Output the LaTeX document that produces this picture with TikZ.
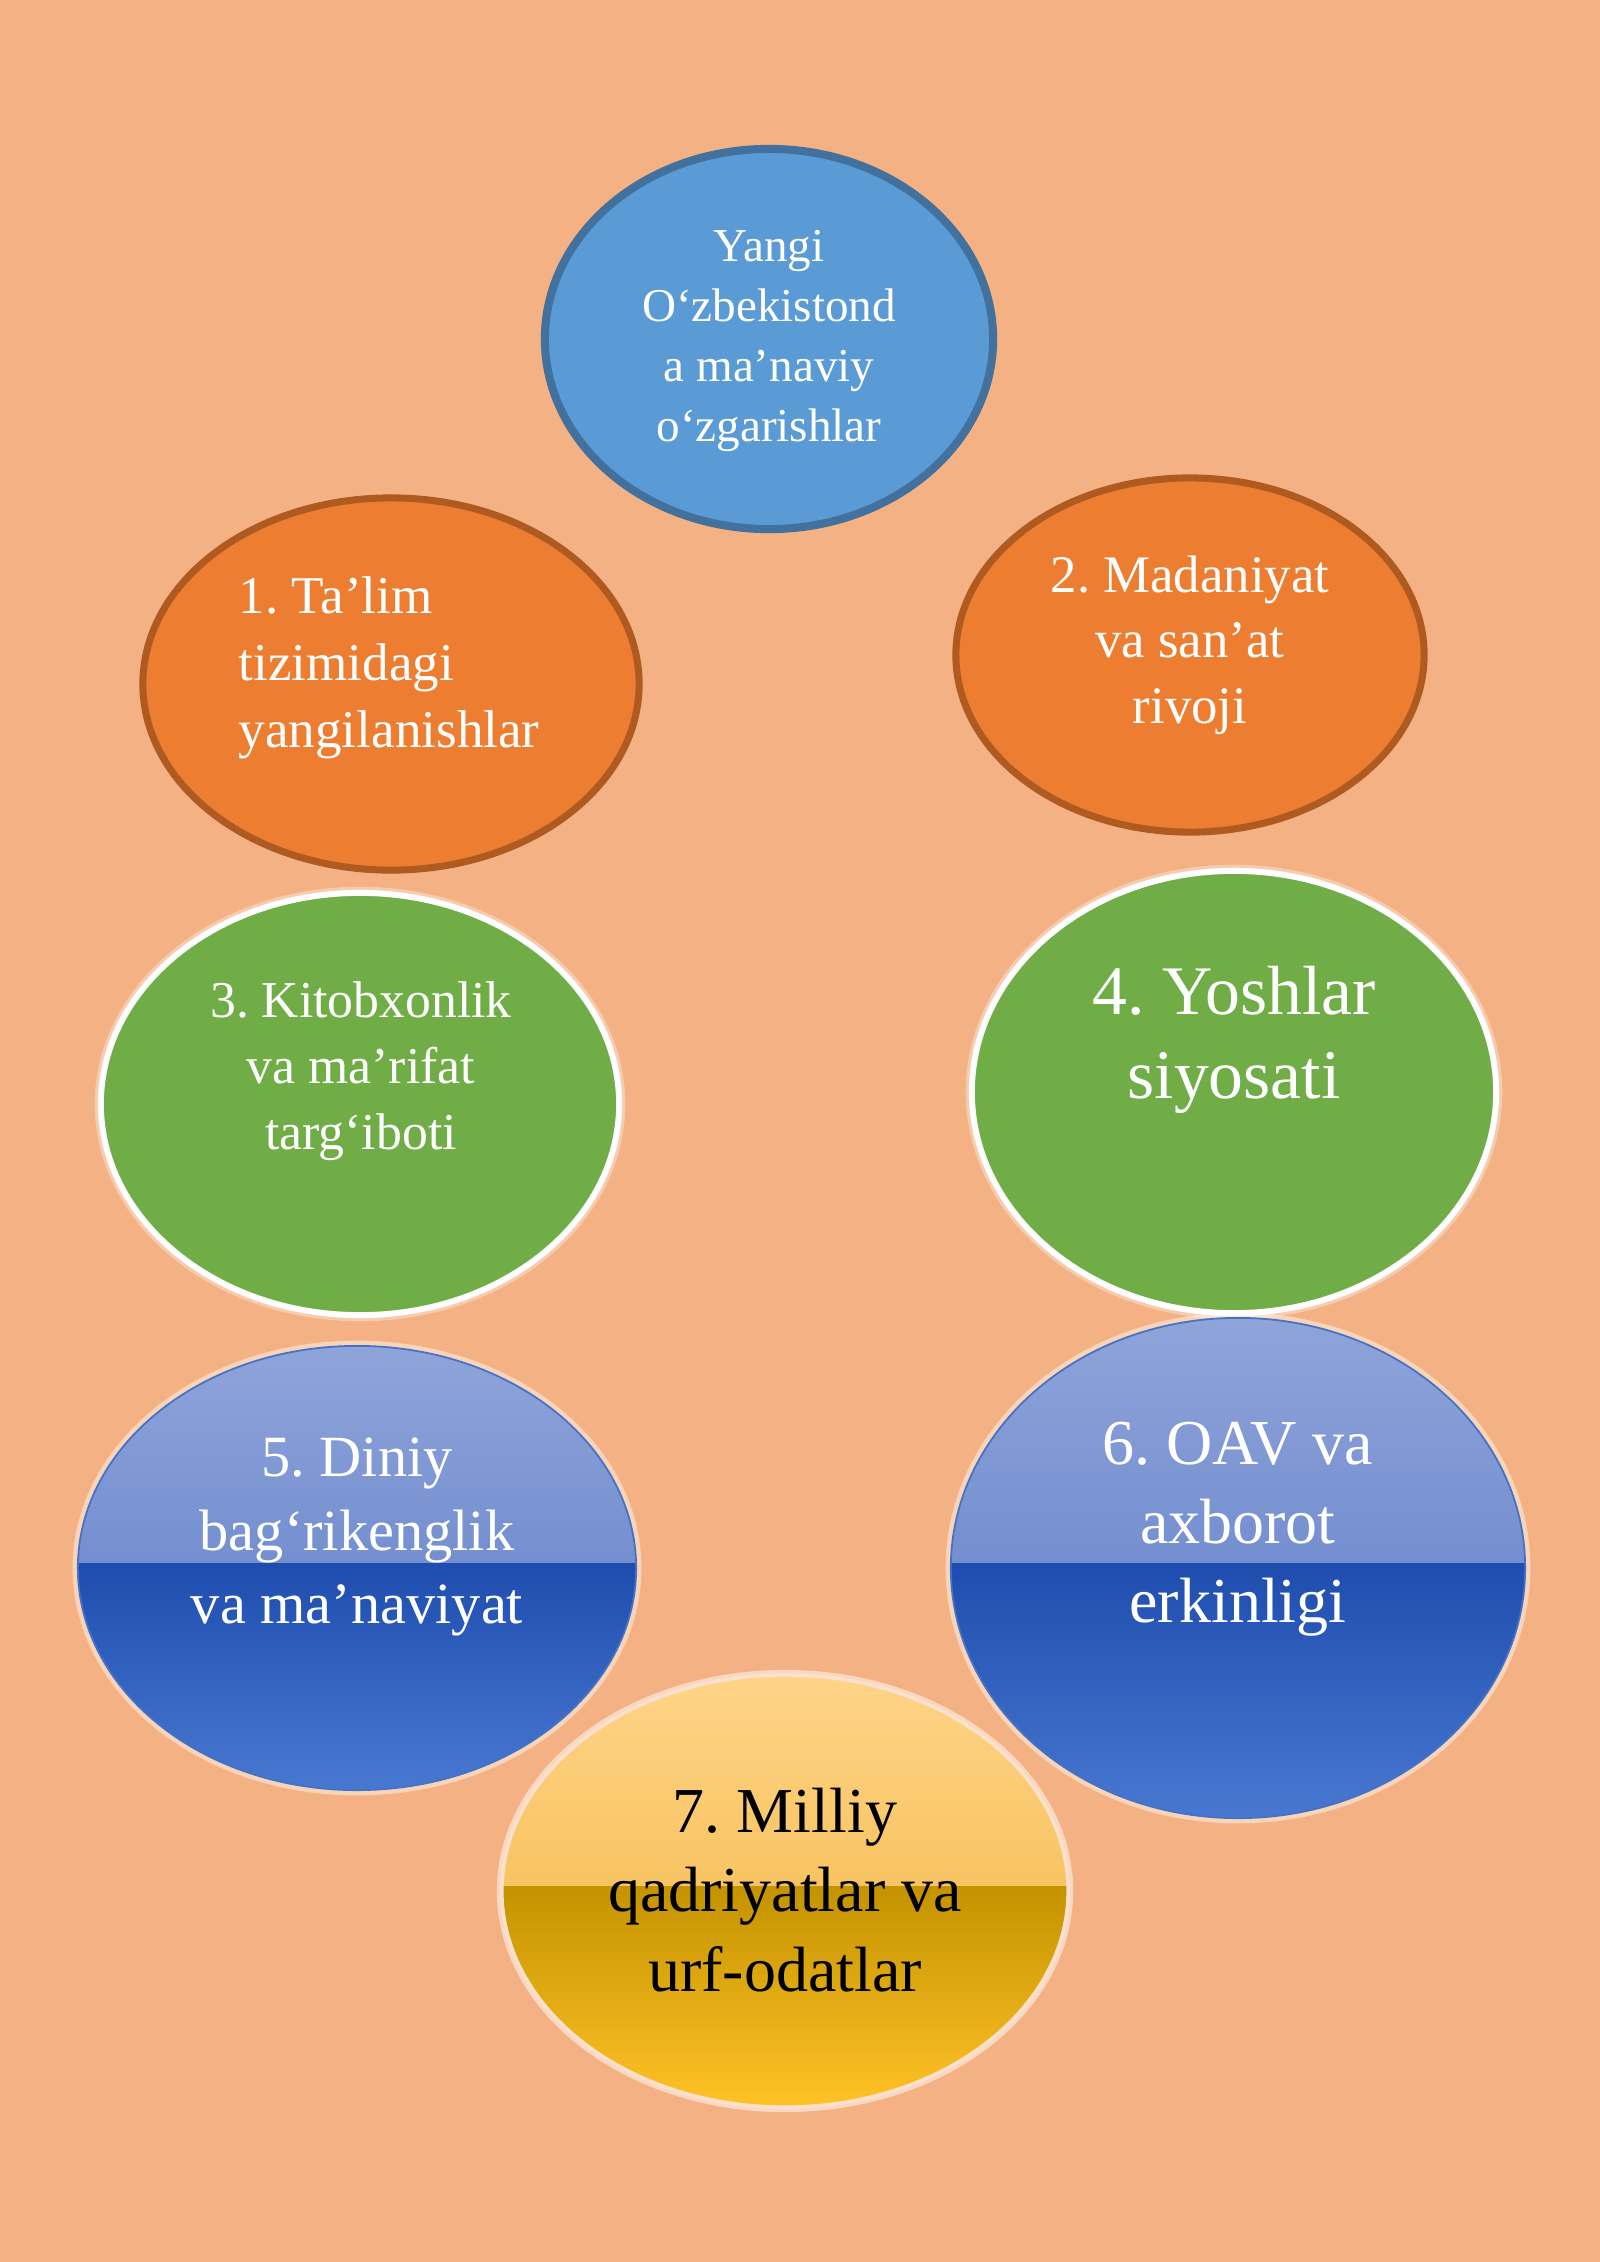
\documentclass[tikz,border=0pt]{standalone}
\usepackage{fontspec}
\setmainfont{Liberation Serif}
\usetikzlibrary{shapes.geometric}
\frenchspacing

\definecolor{pagebg}{HTML}{F4B183}
\definecolor{topblue}{HTML}{5B9BD5}
\definecolor{topedge}{HTML}{41719C}
\definecolor{orangefill}{HTML}{ED7D31}
\definecolor{orangeedge}{HTML}{AE5A21}
\definecolor{greenfill}{HTML}{70AD47}
\definecolor{blueedge}{HTML}{4472C4}
\definecolor{bluetopA}{HTML}{8FA4D9}
\definecolor{bluetopB}{HTML}{5878C6}
\definecolor{bluelowA}{HTML}{1E4DAF}
\definecolor{bluelowB}{HTML}{4878D0}
\definecolor{goldtopA}{HTML}{FED488}
\definecolor{goldtopB}{HTML}{F2B33A}
\definecolor{goldlowA}{HTML}{C49300}
\definecolor{goldlowB}{HTML}{FFC226}

\tikzset{
  bubble/.style={ellipse, inner sep=0pt},
  orangebub/.style={bubble, fill=orangefill, draw=orangeedge, line width=2pt},
  greenbub/.style={bubble, fill=greenfill, draw=white, line width=1.7pt,
    preaction={draw=white, opacity=0.35, line width=3.5pt}},
  glossy/.style n args={4}{path picture={
    \shade[top color=#1, bottom color=#2] (path picture bounding box.north west) rectangle ([yshift=0.05cm]path picture bounding box.east);
    \shade[top color=#3, bottom color=#4] ([yshift=0.05cm]path picture bounding box.west) rectangle (path picture bounding box.south east);
  }},
  bluebub/.style={bubble, draw=blueedge, line width=0.5pt,
    preaction={draw=white, opacity=0.45, line width=3pt},
    glossy={bluetopA}{bluetopB}{bluelowA}{bluelowB}},
  lbl/.style={text=white, align=center, inner sep=0pt},
}

\begin{document}
\begin{tikzpicture}[x=0.01cm, y=-0.01cm]
  \fill[pagebg] (0,0) rectangle (1600,2262);
  \useasboundingbox (0,0) rectangle (1600,2262);

  % centre
  \node[bubble, fill=topblue, draw=topedge, line width=2.3pt,
    minimum width=4.48cm, minimum height=3.80cm] (yangi) at (769,339) {};
  \node[lbl, font=\fontsize{13.4}{17}\selectfont] (yangitxt) at (769,341)
    {Yangi\\O‘zbekistond\\a ma’naviy\\o‘zgarishlar};

  % orange
  \node[orangebub, minimum width=4.96cm, minimum height=3.72cm] (talim) at (391,684) {};
  \node[lbl, align=left, anchor=west, font=\fontsize{15.1}{19}\selectfont] (talimtxt) at (238,668)
    {1. Ta’lim\\tizimidagi\\yangilanishlar};

  \node[orangebub, minimum width=4.68cm, minimum height=3.54cm] (madaniyat) at (1190,655) {};
  \node[lbl, font=\fontsize{15}{18.6}\selectfont] (madaniyattxt) at (1190,645)
    {2. Madaniyat\\va san’at\\rivoji};

  % green
  \node[greenbub, minimum width=5.18cm, minimum height=4.22cm] (kitob) at (360,1104) {};
  \node[lbl, font=\fontsize{14.7}{18.8}\selectfont] (kitobtxt) at (361,1071)
    {3. Kitobxonlik\\va ma’rifat\\targ‘iboti};

  \node[greenbub, minimum width=5.24cm, minimum height=4.42cm] (yoshlar) at (1234,1092) {};
  \node[lbl, font=\fontsize{19.8}{23.9}\selectfont] (yoshlartxt) at (1234,1040)
    {4. Yoshlar\\siyosati};

  % glossy blue
  \node[bluebub, minimum width=5.58cm, minimum height=4.44cm] (diniy) at (357,1568) {};
  \node[lbl, font=\fontsize{16.6}{20.8}\selectfont] (diniytxt) at (357,1537)
    {5. Diniy\\bag‘rikenglik\\va ma’naviyat};

  \node[bluebub, minimum width=5.74cm, minimum height=5.00cm] (oav) at (1238,1568) {};
  \node[lbl, font=\fontsize{18.2}{22.5}\selectfont] (oavtxt) at (1238,1529)
    {6. OAV va\\axborot\\erkinligi};

  % glossy yellow
  \node[bubble, draw=white!60!pagebg, line width=1pt,
    preaction={draw=white, opacity=0.5, line width=0.10cm},
    glossy={goldtopA}{goldtopB}{goldlowA}{goldlowB},
    minimum width=5.66cm, minimum height=4.32cm] (milliy) at (785,1891) {};
  \node[lbl, text=black, font=\fontsize{18.2}{22.5}\selectfont] (milliytxt) at (785,1890)
    {7. Milliy\\qadriyatlar va\\urf-odatlar};
\end{tikzpicture}
\end{document}
